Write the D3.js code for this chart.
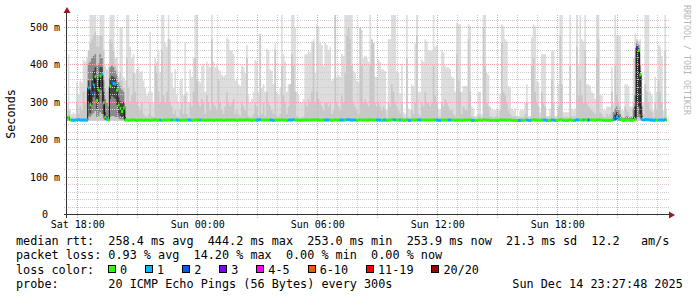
<!DOCTYPE html>
<html>
<head>
<meta charset="utf-8">
<script src="https://cdn.jsdelivr.net/npm/d3@7"></script>
<style>
  body { margin: 0; background: #fff; }
  svg { display: block; }
  text { font-family: "DejaVu Sans Mono", monospace; fill: #000; white-space: pre; }
</style>
</head>
<body>
<svg id="chart" width="697" height="297"></svg>
<script>
// ---- data (5 minute steps, ms) ----
const yTicks = [0, 100, 200, 300, 400, 500]
const yTickLabels = ['  0', '100 m', '200 m', '300 m', '400 m', '500 m']
const xTickLabels = ['Sat 18:00', 'Sun 00:00', 'Sun 06:00', 'Sun 12:00', 'Sun 18:00']
const lossBins = ['0', '1', '2', '3', '4-5', '6-10', '11-19', '20/20']
const lossColors = ['#26ff00', '#00b8ff', '#0059ff', '#7e00ff', '#ff00ff', '#ff5500', '#ff0000', '#a10000']
const floorRtt = 252

const medianRtt = [
  256, 262, 254, 254, 253, 254, 254, 255, 254, 254, 254, 254,
  254, 340, 295, 327, 348, 370, 307, 334, 372, 377, 300, 262,
  256, 254, 345, 354, 352, 350, 334, 294, 285, 277, 286, 254,
  254, 253, 254, 254, 255, 254, 253, 254, 254, 254, 253, 254,
  254, 254, 253, 254, 254, 255, 254, 254, 254, 253, 254, 254,
  254, 255, 254, 254, 254, 254, 254, 254, 253, 254, 254, 254,
  254, 254, 254, 253, 254, 254, 255, 254, 254, 254, 254, 253,
  254, 254, 254, 254, 253, 254, 254, 254, 254, 254, 253, 254,
  254, 254, 254, 254, 254, 254, 253, 254, 254, 254, 254, 254,
  255, 254, 254, 253, 254, 254, 254, 254, 255, 254, 254, 254,
  254, 254, 254, 254, 253, 254, 254, 254, 254, 255, 254, 254,
  253, 254, 254, 254, 255, 254, 254, 254, 253, 254, 254, 254,
  254, 254, 254, 254, 255, 254, 255, 254, 254, 254, 254, 254,
  254, 254, 254, 253, 254, 255, 254, 254, 254, 254, 254, 254,
  255, 255, 254, 254, 254, 254, 253, 254, 255, 254, 254, 254,
  254, 254, 255, 254, 254, 254, 254, 254, 254, 253, 254, 254,
  253, 254, 254, 255, 255, 254, 254, 254, 254, 254, 253, 253,
  255, 253, 253, 254, 254, 254, 255, 254, 254, 254, 254, 254,
  254, 254, 254, 254, 255, 254, 254, 253, 253, 254, 254, 254,
  254, 254, 254, 254, 254, 253, 254, 254, 254, 253, 254, 254,
  254, 255, 254, 253, 253, 253, 253, 254, 254, 253, 255, 254,
  254, 254, 253, 253, 253, 253, 253, 253, 254, 255, 254, 254,
  254, 254, 254, 253, 253, 253, 253, 253, 253, 253, 253, 254,
  254, 253, 253, 254, 255, 254, 254, 254, 253, 254, 254, 254,
  253, 253, 253, 254, 254, 253, 253, 254, 255, 254, 253, 253,
  253, 253, 255, 253, 253, 253, 255, 254, 254, 254, 254, 255,
  254, 254, 254, 254, 254, 253, 255, 255, 254, 254, 253, 253,
  253, 253, 253, 254, 256, 258, 262, 258, 255, 254, 253, 254,
  254, 254, 253, 253, 254, 256, 447, 440, 375, 256, 254, 255,
  255, 255, 254, 254, 253, 254, 254, 254, 254, 254, 253, 255,
  254
]

// loss bin index per step (0 = no loss, 1 = 1 ping lost, ...)
const lossBin = [
  0, 0, 0, 1, 1, 1, 1, 1, 1, 1, 1, 1,
  1, 1, 0, 2, 1, 0, 0, 0, 0, 1, 0, 0,
  1, 0, 0, 2, 1, 1, 0, 0, 0, 0, 0, 0,
  0, 0, 0, 0, 0, 0, 0, 0, 0, 0, 0, 0,
  0, 0, 0, 0, 0, 0, 0, 0, 1, 0, 0, 0,
  0, 0, 0, 1, 0, 0, 1, 1, 0, 0, 0, 0,
  0, 1, 1, 0, 0, 0, 0, 0, 1, 0, 0, 0,
  0, 0, 0, 0, 0, 0, 0, 0, 0, 0, 0, 0,
  0, 0, 0, 0, 0, 0, 0, 0, 0, 0, 0, 0,
  0, 0, 0, 0, 0, 0, 1, 1, 1, 0, 0, 0,
  0, 0, 1, 1, 1, 0, 0, 0, 0, 0, 0, 0,
  0, 1, 1, 1, 1, 0, 0, 0, 0, 0, 0, 0,
  0, 0, 0, 0, 0, 0, 0, 0, 0, 0, 0, 1,
  1, 1, 0, 0, 0, 0, 0, 0, 1, 1, 1, 0,
  1, 1, 1, 1, 1, 1, 0, 0, 0, 0, 0, 0,
  0, 0, 0, 0, 0, 0, 1, 1, 1, 0, 1, 1,
  0, 0, 0, 0, 1, 1, 0, 0, 1, 0, 0, 0,
  0, 1, 1, 0, 0, 0, 0, 1, 1, 0, 0, 0,
  0, 0, 0, 0, 0, 0, 1, 1, 1, 0, 0, 0,
  0, 1, 1, 0, 0, 0, 0, 0, 0, 0, 0, 0,
  0, 0, 0, 1, 1, 0, 0, 0, 0, 0, 0, 0,
  0, 0, 0, 0, 0, 0, 0, 0, 0, 0, 0, 0,
  0, 0, 0, 0, 0, 0, 0, 1, 1, 0, 0, 0,
  1, 1, 1, 0, 0, 0, 0, 0, 0, 0, 1, 1,
  1, 0, 0, 1, 1, 1, 0, 0, 0, 0, 0, 0,
  0, 0, 0, 0, 0, 1, 1, 1, 0, 0, 1, 0,
  0, 2, 0, 0, 0, 0, 0, 0, 0, 0, 0, 0,
  0, 0, 0, 0, 1, 2, 1, 1, 0, 0, 0, 0,
  0, 0, 0, 0, 0, 0, 3, 0, 0, 1, 1, 1,
  1, 1, 1, 1, 1, 1, 0, 1, 1, 1, 1, 1,
  0
]

// highest ping per step (top of the lightest smoke)
const maxRtt = [
  300, 430, 280, 270, 275, 270, 355, 320, 360, 355, 415, 410,
  420, 425, 535, 535, 535, 535, 480, 480, 535, 535, 535, 400,
  390, 400, 535, 535, 535, 420, 420, 370, 500, 500, 370, 360,
  535, 535, 450, 420, 430, 380, 390, 395, 380, 385, 360, 340,
  320, 330, 490, 330, 300, 420, 410, 440, 380, 535, 535, 460,
  450, 535, 470, 380, 340, 390, 320, 300, 360, 365, 320, 460,
  330, 300, 390, 370, 420, 535, 535, 360, 355, 400, 405, 330,
  410, 400, 395, 535, 410, 395, 400, 390, 385, 375, 370, 375,
  475, 470, 440, 440, 430, 360, 365, 350, 345, 400, 395, 380,
  455, 320, 300, 310, 330, 415, 410, 330, 485, 340, 350, 330,
  445, 440, 390, 385, 350, 460, 330, 320, 340, 535, 430, 410,
  330, 350, 350, 535, 535, 500, 330, 320, 300, 300, 310, 430,
  430, 440, 435, 465, 470, 380, 510, 505, 460, 455, 400, 460,
  455, 440, 450, 360, 365, 535, 370, 375, 370, 430, 425, 535,
  535, 535, 535, 535, 385, 380, 360, 355, 500, 495, 420, 425,
  420, 410, 535, 430, 425, 370, 370, 415, 410, 390, 390, 385,
  280, 470, 470, 535, 535, 535, 385, 380, 325, 405, 275, 270,
  535, 285, 280, 350, 345, 460, 535, 330, 330, 415, 410, 470,
  465, 440, 440, 440, 535, 450, 455, 285, 280, 440, 435, 400,
  395, 395, 390, 370, 365, 330, 515, 510, 510, 330, 345, 345,
  345, 510, 505, 290, 285, 265, 265, 330, 330, 270, 535, 535,
  380, 375, 290, 285, 280, 280, 285, 280, 325, 510, 505, 470,
  465, 345, 340, 285, 280, 285, 265, 265, 280, 280, 280, 300,
  350, 265, 265, 475, 510, 505, 360, 355, 275, 430, 430, 430,
  265, 265, 285, 440, 440, 265, 265, 350, 535, 535, 275, 275,
  275, 275, 535, 285, 280, 285, 535, 400, 535, 470, 465, 535,
  350, 350, 345, 330, 325, 310, 535, 535, 320, 320, 280, 280,
  290, 290, 290, 395, 300, 535, 480, 480, 480, 280, 280, 350,
  350, 345, 290, 290, 420, 485, 470, 460, 470, 300, 300, 535,
  535, 535, 330, 320, 280, 370, 330, 455, 450, 425, 280, 535,
  280
]

// second / third highest pings (top of the medium smoke)
const midRtt = [
  260, 280, 258, 256, 258, 256, 300, 270, 290, 280, 330, 300,
  330, 440, 460, 470, 480, 490, 450, 450, 480, 480, 440, 340,
  330, 340, 470, 460, 440, 400, 390, 350, 380, 360, 340, 300,
  420, 340, 300, 320, 380, 330, 300, 290, 280, 300, 270, 265,
  260, 270, 300, 265, 262, 400, 380, 330, 300, 440, 320, 300,
  330, 470, 300, 290, 270, 280, 265, 260, 280, 300, 270, 320,
  270, 260, 300, 290, 330, 420, 360, 300, 290, 310, 300, 270,
  320, 300, 280, 470, 300, 290, 280, 360, 300, 280, 270, 290,
  330, 300, 290, 300, 310, 270, 280, 270, 265, 300, 290, 280,
  420, 265, 260, 262, 270, 300, 290, 265, 485, 270, 300, 265,
  330, 300, 290, 280, 270, 440, 265, 262, 270, 400, 320, 300,
  270, 290, 350, 430, 400, 330, 265, 262, 258, 260, 262, 300,
  290, 310, 300, 330, 460, 300, 330, 310, 300, 290, 280, 300,
  300, 290, 300, 270, 280, 535, 300, 290, 280, 320, 300, 380,
  480, 500, 470, 400, 300, 290, 280, 270, 500, 400, 300, 310,
  300, 290, 400, 470, 460, 300, 290, 300, 290, 280, 290, 280,
  260, 300, 290, 350, 330, 300, 290, 280, 270, 300, 262, 260,
  420, 262, 260, 280, 270, 300, 480, 270, 265, 300, 290, 330,
  300, 300, 290, 300, 400, 320, 300, 262, 260, 300, 290, 310,
  300, 290, 280, 280, 270, 265, 430, 360, 330, 270, 290, 280,
  280, 470, 330, 265, 262, 258, 258, 270, 265, 258, 500, 400,
  300, 290, 265, 262, 260, 262, 265, 262, 280, 460, 330, 320,
  300, 280, 270, 265, 262, 265, 258, 258, 262, 262, 262, 270,
  300, 258, 258, 400, 420, 330, 300, 290, 262, 330, 300, 290,
  258, 258, 265, 360, 300, 258, 258, 290, 480, 350, 262, 262,
  262, 262, 400, 265, 262, 265, 450, 320, 360, 320, 300, 440,
  300, 290, 285, 280, 275, 270, 420, 470, 275, 270, 262, 262,
  270, 265, 270, 330, 275, 400, 320, 300, 290, 265, 262, 290,
  280, 275, 265, 265, 300, 420, 470, 465, 430, 275, 270, 350,
  330, 300, 280, 275, 262, 300, 280, 360, 330, 300, 262, 440,
  262
]

// dense smoke around the median during the two slow spells
const core1Start = 13
const core1OuterLo = [265, 262, 268, 272, 278, 262, 265, 275, 270, 258, 254, 253, 253, 262, 265, 265, 262, 260, 258, 256, 256, 256, 253]
const core1OuterHi = [405, 410, 420, 425, 430, 400, 405, 430, 420, 360, 310, 300, 290, 395, 400, 395, 385, 375, 355, 345, 335, 330, 290]
const core1InnerLo = [305, 272, 295, 315, 330, 280, 300, 335, 335, 270, 256, 254, 253, 310, 318, 315, 310, 295, 272, 265, 262, 265, 253]
const core1InnerHi = [360, 335, 360, 385, 395, 345, 365, 395, 395, 330, 275, 265, 258, 365, 372, 370, 365, 350, 315, 305, 298, 302, 262]

const core2Start = 328
const core2OuterLo = [253, 253, 254, 253, 253, 253, 253, 253, 253, 253, 253, 253, 253, 254, 262, 262, 260, 253]
const core2OuterHi = [275, 285, 290, 280, 270, 262, 258, 262, 265, 262, 260, 262, 285, 320, 462, 455, 400, 290]
const core2InnerLo = [253, 254, 256, 254, 253, 253, 253, 253, 253, 253, 253, 253, 253, 256, 300, 290, 270, 254]
const core2InnerHi = [262, 268, 275, 266, 258, 255, 254, 255, 256, 255, 254, 255, 262, 290, 452, 446, 385, 265]

const legendRtt = 'median rtt:  258.4 ms avg  444.2 ms max  253.0 ms min  253.9 ms now  21.3 ms sd  12.2   am/s'
const legendLoss = 'packet loss: 0.93 % avg  14.20 % max  0.00 % min  0.00 % now'
const legendColor = 'loss color:'
const legendProbe = 'probe:       20 ICMP Echo Pings (56 Bytes) every 300s'
const legendDate = 'Sun Dec 14 23:27:48 2025'

;[medianRtt, lossBin, maxRtt, midRtt].forEach(function(a, k) {
  if (a.length !== 361) throw new Error('array ' + k + ' has ' + a.length)
})

// ---- chart ----
const svg = d3.select('#chart')
const t0 = new Date(2025, 11, 13, 17, 27, 48)
const t1 = new Date(2025, 11, 14, 23, 27, 48)
const firstStep = new Date(2025, 11, 13, 17, 25, 0)
const stepTime = i => d3.timeMinute.offset(firstStep, 5 * i)

const x = d3.scaleTime().domain([t0, t1]).range([67, 667])
const y = d3.scaleLinear().domain([0, 535]).range([215, 15])
const crisp = v => Math.round(v) - 0.5

svg.append('defs').append('clipPath').attr('id', 'plot')
  .append('rect').attr('x', 67).attr('y', 15).attr('width', 600).attr('height', 200)

const smoke = svg.append('g').attr('clip-path', 'url(#plot)')

function band(loArr, hiArr, start) {
  const n = hiArr.length
  const pts = d3.range(n + 1).map(k => ({ t: stepTime(start + k), lo: loArr[Math.min(k, n - 1)], hi: hiArr[Math.min(k, n - 1)] }))
  return d3.area()
    .x(d => x(d.t))
    .y0(d => y(d.lo))
    .y1(d => y(d.hi))
    .curve(d3.curveStepAfter)(pts)
}

const floorArr = maxRtt.map(() => floorRtt)
smoke.append('path').attr('d', band(floorArr, maxRtt, 0)).attr('fill', '#dddddd')
smoke.append('path').attr('d', band(floorArr, midRtt, 0)).attr('fill', '#c8c8c8')
smoke.append('path').attr('d', band(core1OuterLo, core1OuterHi, core1Start)).attr('fill', '#8a8a8a')
smoke.append('path').attr('d', band(core1InnerLo, core1InnerHi, core1Start)).attr('fill', '#454545')
smoke.append('path').attr('d', band(core2OuterLo, core2OuterHi, core2Start)).attr('fill', '#8a8a8a')
smoke.append('path').attr('d', band(core2InnerLo, core2InnerHi, core2Start)).attr('fill', '#333333')

// grid, drawn over the smoke like rrdtool does
const grid = svg.append('g').attr('shape-rendering', 'crispEdges').attr('stroke-dasharray', '1,1')
d3.range(20, 540, 20).forEach(v => {
  grid.append('line')
    .attr('x1', 64).attr('x2', 669)
    .attr('y1', crisp(y(v))).attr('y2', crisp(y(v)))
    .attr('stroke', v % 100 === 0 ? '#eaa8a8' : '#cccccc')
})
d3.timeHour.range(t0, t1).forEach(h => {
  const major = h.getHours() % 3 === 0
  grid.append('line')
    .attr('x1', crisp(x(h))).attr('x2', crisp(x(h)))
    .attr('y1', 15).attr('y2', major ? 218 : 217)
    .attr('stroke', major ? '#eaa8a8' : '#cccccc')
})

// median line and loss coloured median marks, on top of the grid
const med = svg.append('g').attr('clip-path', 'url(#plot)')
med.append('path')
  .attr('d', d3.line()
    .x(i => x(stepTime(i)))
    .y(i => y(medianRtt[Math.min(i, 360)]))
    .curve(d3.curveStepAfter)(d3.range(362)))
  .attr('fill', 'none').attr('stroke', '#111').attr('stroke-width', 1)

med.append('g').selectAll('rect')
  .data(d3.range(361))
  .join('rect')
  .attr('x', i => x(stepTime(i)))
  .attr('width', i => x(stepTime(i + 1)) - x(stepTime(i)) + 0.3)
  .attr('y', i => y(medianRtt[i]) - 1.5)
  .attr('height', 3)
  .attr('fill', i => lossColors[lossBin[i]])

// axes
const axis = svg.append('g').attr('shape-rendering', 'crispEdges')
axis.append('line').attr('x1', 66.5).attr('x2', 66.5).attr('y1', 218).attr('y2', 12).attr('stroke', '#333')
axis.append('line').attr('x1', 64).attr('x2', 670).attr('y1', 214.5).attr('y2', 214.5).attr('stroke', '#333')
svg.append('path').attr('d', 'M63.5,13 L70.5,13 L67,7 Z').attr('fill', '#9b1b1b')
svg.append('path').attr('d', 'M669,211.5 L669,218.5 L675,215 Z').attr('fill', '#9b1b1b')

// y tick labels
svg.append('g').selectAll('text')
  .data(yTicks)
  .join('text')
  .attr('x', 30)
  .attr('y', v => crisp(y(v)) + 3.8)
  .attr('font-size', 10)
  .text((v, i) => yTickLabels[i])

// x tick labels every 6 hours
const labelTimes = d3.timeHour.every(6).range(t0, t1)
svg.append('g').selectAll('text')
  .data(labelTimes)
  .join('text')
  .attr('x', d => x(d))
  .attr('y', 227.5)
  .attr('text-anchor', 'middle')
  .attr('font-size', 10)
  .text((d, i) => xTickLabels[i])

// axis title
svg.append('text')
  .attr('transform', 'translate(15,114) rotate(-90)')
  .attr('text-anchor', 'middle')
  .attr('font-size', 11.8)
  .text('Seconds')

// watermark
svg.append('text')
  .attr('transform', 'translate(684,5) rotate(90)')
  .attr('font-size', 8.3)
  .style('fill', '#b8b8b8')
  .text('RRDTOOL / TOBI OETIKER')

// legend
const charW = 7.09
const legend = svg.append('g').attr('font-size', 11.8)
legend.append('text').attr('x', 16).attr('y', 244.5).text(legendRtt)
legend.append('text').attr('x', 16).attr('y', 259).text(legendLoss)
legend.append('text').attr('x', 16).attr('y', 273.5).text(legendColor)
legend.append('text').attr('x', 16).attr('y', 288).text(legendProbe)
legend.append('text').attr('x', 16 + 70 * charW).attr('y', 288).text(legendDate)

let bx = 108
lossBins.forEach((label, i) => {
  legend.append('rect')
    .attr('x', bx + 0.5).attr('y', 265.5)
    .attr('width', 7).attr('height', 7)
    .attr('fill', lossColors[i]).attr('stroke', '#000')
    .attr('shape-rendering', 'crispEdges')
  legend.append('text').attr('x', bx + 12).attr('y', 273.5).text(label)
  bx += 30 + label.length * charW
})
</script>
</body>
</html>
